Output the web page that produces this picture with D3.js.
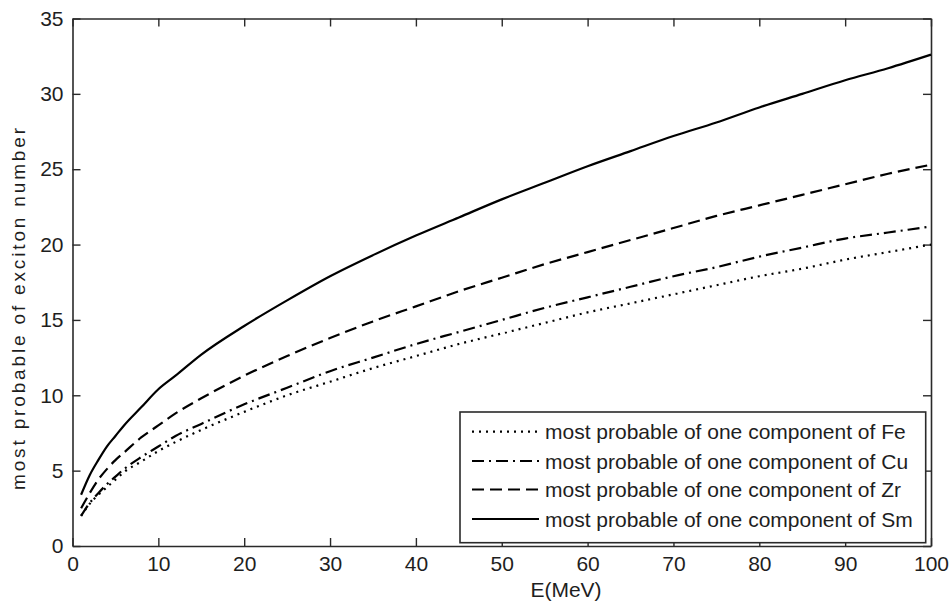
<!DOCTYPE html>
<html>
<head>
<meta charset="utf-8">
<script src="https://cdn.jsdelivr.net/npm/d3@7"></script>
<style>
  html, body { margin: 0; padding: 0; background: #fff; }
  svg { display: block; font-family: "Liberation Sans", Arial, sans-serif; }
</style>
</head>
<body>
<svg id="chart" width="950" height="606"></svg>
<script>
// ---- data ----
const energies = [1, 2, 3, 4, 5, 6, 8, 10, 12, 15, 20, 25, 30, 35, 40, 45, 50, 55, 60, 65, 70, 75, 80, 85, 90, 95, 100];
const feValues = [2.0, 2.8, 3.4, 3.9, 4.4, 4.9, 5.6, 6.3, 6.9, 7.7, 8.9, 10.0, 10.9, 11.8, 12.6, 13.4, 14.1, 14.8, 15.5, 16.1, 16.7, 17.3, 17.9, 18.4, 19.0, 19.5, 20.0];
const cuValues = [2.0, 2.85, 3.5, 4.1, 4.6, 5.1, 5.9, 6.6, 7.3, 8.1, 9.4, 10.5, 11.6, 12.5, 13.4, 14.2, 15.0, 15.8, 16.5, 17.2, 17.9, 18.5, 19.2, 19.8, 20.4, 20.8, 21.2];
const zrValues = [2.5, 3.5, 4.4, 5.1, 5.7, 6.2, 7.2, 8.0, 8.8, 9.8, 11.3, 12.6, 13.8, 14.9, 15.9, 16.9, 17.8, 18.7, 19.5, 20.3, 21.1, 21.9, 22.6, 23.3, 24.0, 24.7, 25.3];
const smValues = [3.4, 4.7, 5.7, 6.6, 7.3, 8.0, 9.2, 10.4, 11.3, 12.7, 14.6, 16.3, 17.9, 19.3, 20.6, 21.8, 23.0, 24.1, 25.2, 26.2, 27.2, 28.1, 29.1, 30.0, 30.9, 31.7, 32.6];
const seriesNames = ["most probable of one component of Fe", "most probable of one component of Cu", "most probable of one component of Zr", "most probable of one component of Sm"];
const xTicks = [0, 10, 20, 30, 40, 50, 60, 70, 80, 90, 100];
const yTicks = [0, 5, 10, 15, 20, 25, 30, 35];
const xLabel = "E(MeV)";
const yLabel = "most probable of exciton number";

// ---- styles ----
const dashes = ["2,5", "12,5,2,5", "12,6", null];
const series = [feValues, cuValues, zrValues, smValues];

const svg = d3.select("#chart");
const plotLeft = 72.5, plotRight = 931, plotTop = 18.5, plotBottom = 546;
const x = d3.scaleLinear().domain([0, 100]).range([plotLeft, plotRight]);
const y = d3.scaleLinear().domain([0, 35]).range([plotBottom, plotTop]);
const axisColor = "#2a2a2a";
const textColor = "#1e1e1e";
const fontSize = 21;

// axes (box with inward ticks)
const tickLen = 8;
const gx = svg.append("g").attr("transform", `translate(0,${plotBottom})`)
  .call(d3.axisBottom(x).tickValues(xTicks).tickSizeInner(-tickLen).tickSizeOuter(0).tickPadding(14));
const gxTop = svg.append("g").attr("transform", `translate(0,${plotTop})`)
  .call(d3.axisTop(x).tickValues(xTicks).tickSizeInner(-tickLen).tickSizeOuter(0).tickFormat(""));
const gy = svg.append("g").attr("transform", `translate(${plotLeft},0)`)
  .call(d3.axisLeft(y).tickValues(yTicks).tickSizeInner(-tickLen).tickSizeOuter(0).tickPadding(18));
const gyRight = svg.append("g").attr("transform", `translate(${plotRight},0)`)
  .call(d3.axisRight(y).tickValues(yTicks).tickSizeInner(-tickLen).tickSizeOuter(0).tickFormat(""));

[gx, gxTop, gy, gyRight].forEach(g => {
  g.select(".domain").attr("stroke", axisColor).attr("stroke-width", 1.6);
  g.selectAll(".tick line").attr("stroke", axisColor).attr("stroke-width", 1.4);
  g.selectAll(".tick text").attr("fill", textColor).attr("font-size", fontSize)
    .attr("font-family", "Liberation Sans, Arial, sans-serif");
});
gx.selectAll(".tick text").attr("dy", "0.71em").attr("y", 10);
gy.selectAll(".tick text").attr("x", -9);

// axis labels
svg.append("text").attr("x", 566).attr("y", 597).attr("text-anchor", "middle")
  .attr("font-size", fontSize).attr("fill", textColor).text(xLabel);
svg.append("text").attr("transform", "translate(25,309) rotate(-90)")
  .attr("text-anchor", "middle").attr("font-size", 19).attr("fill", textColor)
  .attr("textLength", 362).attr("lengthAdjust", "spacing").text(yLabel);

// curves
const line = d3.line().x((d, i) => x(energies[i])).y(d => y(d)).curve(d3.curveMonotoneX);
series.forEach((vals, k) => {
  const p = svg.append("path").datum(vals)
    .attr("d", line).attr("fill", "none").attr("stroke", "#000")
    .attr("stroke-width", 2.2);
  if (dashes[k]) p.attr("stroke-dasharray", dashes[k]);
});

// legend
const lg = svg.append("g");
lg.append("rect").attr("x", 460).attr("y", 412).attr("width", 465.7).attr("height", 130.7)
  .attr("fill", "#fff").attr("stroke", axisColor).attr("stroke-width", 1.6);
const rowY = [431.7, 461, 489.5, 519];
seriesNames.forEach((name, k) => {
  const l = lg.append("line").attr("x1", 472).attr("x2", 539)
    .attr("y1", rowY[k]).attr("y2", rowY[k])
    .attr("stroke", "#000").attr("stroke-width", 2.2);
  if (dashes[k]) l.attr("stroke-dasharray", dashes[k]);
  lg.append("text").attr("x", 545).attr("y", rowY[k] + 7.5)
    .attr("font-size", fontSize).attr("fill", textColor).text(name);
});
</script>
</body>
</html>
